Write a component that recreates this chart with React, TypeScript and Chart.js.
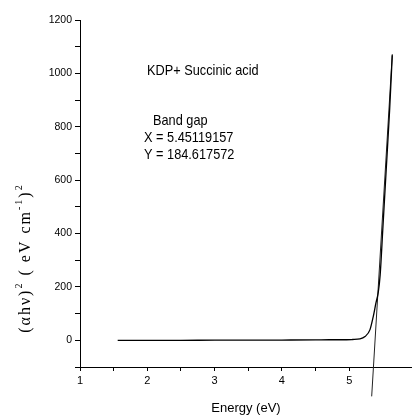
import { useEffect, useRef } from 'react';
import { Chart, registerables } from 'chart.js';

Chart.register(...registerables);

// Measured curve: (αhν)² versus photon energy
const energy = [1.56, 2.0, 2.5, 3.0, 3.5, 4.0, 4.5, 4.7, 4.9, 5.05, 5.16, 5.235, 5.309, 5.358, 5.398, 5.432, 5.46, 5.5, 5.55, 5.6, 5.64];
const alphaHv2 = [0, 0, 0, 0.5, 0.5, 1, 1.5, 2, 2, 3, 5, 14, 40, 90, 141, 180, 245, 420, 640, 860, 1068];

// Linear fit (tangent) used for band-gap extrapolation
const fitEnergy = [5.334, 5.64];
const fitValue = [-210, 1072];

// Tick labels
const xTickLabels = [1, 2, 3, 4, 5];
const yTickLabels = [0, 200, 400, 600, 800, 1000, 1200];

// Annotation texts
const noteTexts = ['KDP+ Succinic acid', 'Band gap', 'X = 5.45119157', 'Y = 184.617572'];
const noteEnergy = [1.996, 2.085, 1.951, 1.951];
const noteValue = [1008, 821, 757, 693];

const SANS = '"Liberation Sans", Arial, sans-serif';
const SERIF = '"Liberation Serif", "Times New Roman", serif';

const notesPlugin = {
  id: 'notes',
  afterDraw(chart: any) {
    const { ctx } = chart;
    const xs = chart.scales.x;
    const ys = chart.scales.y;
    ctx.save();
    ctx.fillStyle = '#000';
    ctx.font = `15px ${SANS}`;
    ctx.textAlign = 'left';
    ctx.textBaseline = 'middle';
    noteTexts.forEach((t, i) => {
      ctx.save();
      ctx.translate(xs.getPixelForValue(noteEnergy[i]), ys.getPixelForValue(noteValue[i]));
      ctx.scale(0.85, 1);
      ctx.fillText(t, 0, 0);
      ctx.restore();
    });
    ctx.restore();

    // y-axis title with superscripts
    const segs = [
      { t: '(αhν)', s: false },
      { t: '2', s: true },
      { t: ' ( eV cm', s: false },
      { t: '-1', s: true },
      { t: ')', s: false },
      { t: '2', s: true },
    ];
    ctx.save();
    ctx.fillStyle = '#000';
    ctx.textAlign = 'left';
    ctx.textBaseline = 'alphabetic';
    (ctx as any).letterSpacing = '2px';
    const big = `16px ${SERIF}`;
    const small = `10px ${SERIF}`;
    let total = 0;
    segs.forEach((sg) => {
      ctx.font = sg.s ? small : big;
      total += ctx.measureText(sg.t).width;
    });
    ctx.translate(30, ys.getPixelForValue(308));
    ctx.rotate(-Math.PI / 2);
    let cx = -total / 2;
    segs.forEach((sg) => {
      ctx.font = sg.s ? small : big;
      ctx.fillText(sg.t, cx, sg.s ? -8 : 0);
      cx += ctx.measureText(sg.t).width;
    });
    ctx.restore();
  },
};

export default function App() {
  const ref = useRef<HTMLCanvasElement | null>(null);
  useEffect(() => {
    if (!ref.current) return;
    const chart = new Chart(ref.current, {
      type: 'scatter',
      data: {
        datasets: [
          {
            data: energy.map((e, i) => ({ x: e, y: alphaHv2[i] })),
            showLine: true,
            borderColor: '#000',
            borderWidth: 1.3,
            pointRadius: 0,
            cubicInterpolationMode: 'monotone',
            clip: false as any,
          },
          {
            data: fitEnergy.map((e, i) => ({ x: e, y: fitValue[i] })),
            showLine: true,
            borderColor: '#222',
            borderWidth: 1,
            pointRadius: 0,
            clip: false as any,
          },
        ],
      },
      options: {
        animation: false,
        responsive: false,
        devicePixelRatio: 1,
        layout: { padding: { top: 20, right: 0, left: 0, bottom: 0 } },
        plugins: { legend: { display: false }, tooltip: { enabled: false } },
        scales: {
          x: {
            type: 'linear',
            min: 1,
            max: 5.933,
            afterBuildTicks: (s: any) => {
              s.ticks = s.ticks.filter((t: any) => Math.abs(t.value * 2 - Math.round(t.value * 2)) < 1e-6);
            },
            afterFit: (s: any) => {
              s.height = 52;
            },
            ticks: {
              stepSize: 0.5,
              autoSkip: false,
              maxRotation: 0,
              color: '#000',
              padding: 3,
              font: { family: SANS, size: 11 },
              callback: (v: any) => (xTickLabels.includes(v) ? String(v) : ''),
            },
            grid: { drawOnChartArea: false, drawTicks: true, tickLength: 4, color: '#000', lineWidth: 1 },
            border: { display: true, color: '#000', width: 1 },
            title: {
              display: true,
              text: 'Energy (eV)',
              color: '#000',
              font: { family: SANS, size: 13 },
              padding: { top: 0, bottom: 3 },
            },
          },
          y: {
            min: -100,
            max: 1200,
            afterFit: (s: any) => {
              s.width = 80;
            },
            ticks: {
              stepSize: 100,
              autoSkip: false,
              color: '#000',
              padding: 3,
              font: { family: SANS, size: 10.5 },
              callback: (v: any) => (yTickLabels.includes(v) ? String(v) : ''),
            },
            grid: { drawOnChartArea: false, drawTicks: true, tickLength: 5, color: '#000', lineWidth: 1 },
            border: { display: true, color: '#000', width: 1 },
          },
        },
      },
      plugins: [notesPlugin],
    } as any);
    return () => chart.destroy();
  }, []);
  return (
    <div style={{ position: 'fixed', left: 0, top: 0, width: 412, height: 419, background: '#fff' }}>
      <canvas ref={ref} width={412} height={419} />
    </div>
  );
}
